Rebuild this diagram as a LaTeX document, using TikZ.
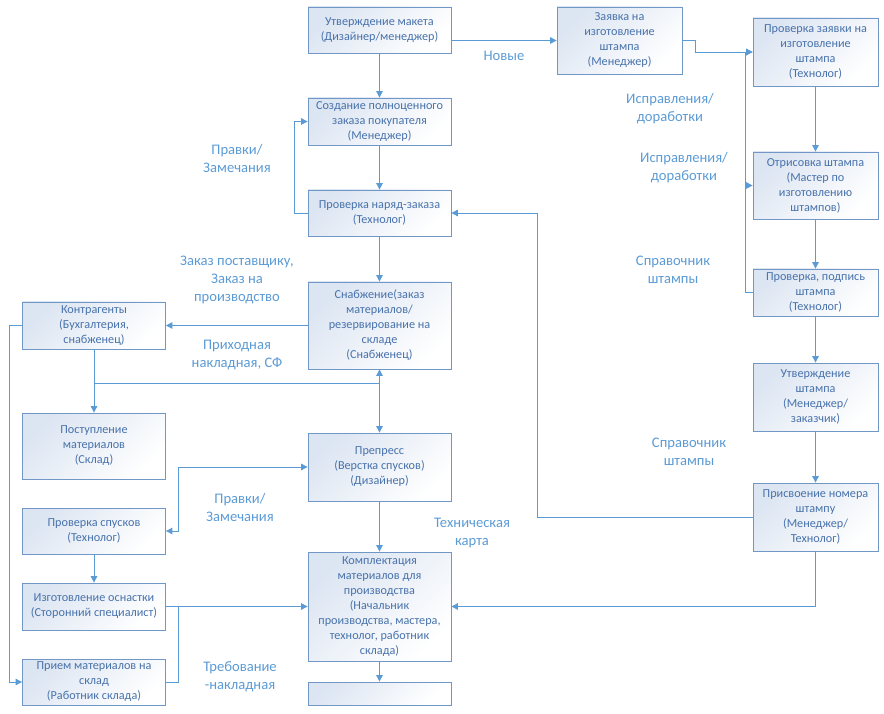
\documentclass[tikz,border=0pt]{standalone}
\usepackage{fontspec}
\setmainfont{Carlito}
\usetikzlibrary{arrows.meta,positioning}
\definecolor{flow}{HTML}{5B9BD5}
\definecolor{boxline}{HTML}{7097C6}
\definecolor{boxtext}{HTML}{4872AB}
\definecolor{boxfill}{HTML}{DCE5F2}

\begin{document}
\begin{tikzpicture}[x=1pt,y=-1pt,->,>={Triangle[length=6.5pt,width=6.5pt]},%
    flow,line width=0.9pt,on grid,node distance=90pt,
    box/.style={rectangle,draw=boxline,line width=0.8pt,top color=boxfill,
      bottom color=white,shading angle=45,text=boxtext,align=center,
      font=\fontsize{12.2}{15}\selectfont,inner sep=1pt},
    wide/.style={box,minimum width=143pt},
    narrow/.style={box,minimum width=125pt},
    lbl/.style={text=flow,align=center,font=\fontsize{14.6}{18}\selectfont}]
    \useasboundingbox (0,0) rectangle (884,714);

    \node[wide,minimum height=46pt]   (approve)                          at (379.5,30)   {Утверждение макета\\(Дизайнер/менеджер)};
    \node[wide,minimum height=47pt]   (create)     [below=91.5pt of approve]          {Создание полноценного\\заказа покупателя\\(Менеджер)};
    \node[wide,minimum height=46pt]   (checkorder) [below=91.5pt of create]           {Проверка наряд-заказа\\(Технолог)};
    \node[wide,minimum height=87pt]   (supply)     [below=112.5pt of checkorder]      {Снабжение(заказ\\материалов/\\резервирование на\\складе\\(Снабженец)};
    \node[wide,minimum height=68pt]   (prepress)   [below=141.5pt of supply]          {Препресс\\(Верстка спусков)\\(Дизайнер)};
    \node[wide,minimum height=109pt]  (kit)        [below=139.5pt of prepress]        {Комплектация\\материалов для\\производства\\(Начальник\\производства, мастера,\\технолог, работник\\склада)};
    \node[wide,minimum height=23pt]   (final)      [below=87pt of kit]                {};

    \node[wide,minimum height=47pt]   (contr)                            at (94,325.5)   {Контрагенты\\(Бухгалтерия,\\снабженец)};
    \node[wide,minimum height=66pt]   (receipt)    [below=120.5pt of contr]           {Поступление\\материалов\\(Склад)};
    \node[wide,minimum height=46pt]   (checkimp)   [below=85pt of receipt]            {Проверка спусков\\(Технолог)};
    \node[wide,minimum height=47pt]   (tooling)    [below=75.5pt of checkimp]         {Изготовление оснастки\\(Сторонний специалист)};
    \node[wide,minimum height=46pt]   (accept)     [below=75.5pt of tooling]          {Прием материалов на\\склад\\(Работник склада)};

    \node[narrow,minimum height=67pt] (stampreq)                         at (619.5,40.5) {Заявка на\\изготовление\\штампа\\(Менеджер)};
    \node[narrow,minimum height=68pt] (checkreq)                         at (815.5,52)   {Проверка заявки на\\изготовление\\штампа\\(Технолог)};
    \node[narrow,minimum height=67pt] (drawing)    [below=133.5pt of checkreq]        {Отрисовка штампа\\(Мастер по\\изготовлению\\штампов)};
    \node[narrow,minimum height=47pt] (sign)       [below=107pt of drawing]           {Проверка, подпись\\штампа\\(Технолог)};
    \node[narrow,minimum height=68pt] (stampok)    [below=104.5pt of sign]            {Утверждение\\штампа\\(Менеджер/\\заказчик)};
    \node[narrow,minimum height=68pt] (stampno)    [below=120pt of stampok]           {Присвоение номера\\штампу\\(Менеджер/\\Технолог)};

    \node[lbl] (remarks1) at (237,158)   {Правки/\\Замечания};
    \node[lbl] (new)      at (504,56)    {Новые};
    \node[lbl] (fixes1)   at (670,109)   {Исправления/\\доработки};
    \node[lbl] (fixes2)   at (684,168)   {Исправления/\\доработки};
    \node[lbl] (ref1)     at (673,270)   {Справочник\\штампы};
    \node[lbl] (orders)   at (237,280)   {Заказ поставщику,\\Заказ на\\производство};
    \node[lbl] (invoice)  at (237,355)   {Приходная\\накладная, СФ};
    \node[lbl] (ref2)     at (689,452)   {Справочник\\штампы};
    \node[lbl] (remarks2) at (240,507)   {Правки/\\Замечания};
    \node[lbl] (techcard) at (472,533)   {Техническая\\карта};
    \node[lbl] (demand)   at (240,677)   {Требование\\-накладная};

    \coordinate (split) at (379.5,383);

    \path (approve)  edge (create)
          (create)   edge (checkorder)
          (checkorder) edge (supply)
          (prepress) edge (kit)
          (kit)      edge (final)
          (supply)   edge (contr)
          (contr)    edge (receipt)
          (checkimp) edge (tooling)
          (tooling)  edge (kit)
          (checkreq) edge (drawing)
          (drawing)  edge (sign)
          (sign)     edge (stampok)
          (stampok)  edge (stampno)
          (supply)   edge [<->] (prepress);

    \draw (checkorder.west) -- ++(-13,0) |- (create.west);
    \draw (approve.east |- stampreq.west) -- (stampreq.west);
    \draw (stampreq.east) -- ++(13,0) |- (checkreq.west);
    \draw (sign.west) -- ++(-7,0) coordinate (back) |- (checkreq.west);
    \draw (back |- drawing.west) -- (drawing.west);
    \draw (stampno.west) -- ++(-215,0) |- (checkorder.east);
    \draw (stampno.south) |- (kit.east);
    \draw[-] (split) -- (split -| contr.south);
    \draw (contr.west) -- ++(-13,0) |- (accept.west);
    \draw[<->] (checkimp.east) -- ++(13,0) |- (prepress.west);
    \draw[-] (accept.east) -- ++(13,0) |- (tooling.east);
\end{tikzpicture}
\end{document}
